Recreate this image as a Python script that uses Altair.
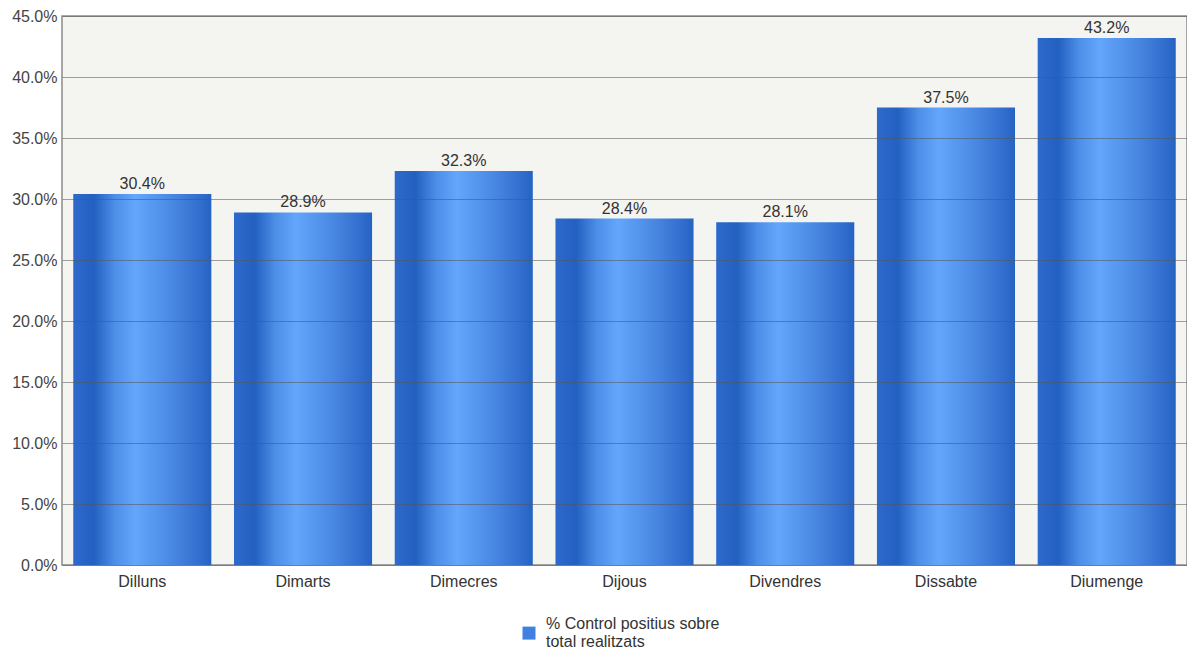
import altair as alt
import pandas as pd

days = ["Dilluns", "Dimarts", "Dimecres", "Dijous", "Divendres", "Dissabte", "Diumenge"]
values = [30.4, 28.9, 32.3, 28.4, 28.1, 37.5, 43.2]
series_name = "% Control positius sobre total realitzats"
legend_lines = ["% Control positius sobre", "total realitzats"]

df = pd.DataFrame({"dia": days, "valor": [v / 100 for v in values], "serie": [series_name] * len(days)})

FONT = "Liberation Sans"
FS = 16

grad = alt.LinearGradient(
    gradient="linear",
    stops=[
        alt.GradientStop(color="#2d6acb", offset=0.0),
        alt.GradientStop(color="#2360c0", offset=0.15),
        alt.GradientStop(color="#4d8ee8", offset=0.3),
        alt.GradientStop(color="#63a6fb", offset=0.45),
        alt.GradientStop(color="#4b8ae4", offset=0.7),
        alt.GradientStop(color="#3470cf", offset=0.9),
        alt.GradientStop(color="#2563c2", offset=1.0),
    ],
    x1=0, x2=1, y1=0, y2=0,
)

x_enc = alt.X(
    "dia:N", sort=days, title=None,
    scale=alt.Scale(paddingInner=0.141, paddingOuter=0.07),
    axis=alt.Axis(labelAngle=0, ticks=False, domain=False, labelPadding=8,
                  labelFont=FONT, labelFontSize=FS, labelColor="#333333"),
)
y_enc = alt.Y(
    "valor:Q", title=None,
    scale=alt.Scale(domain=[0, 0.45], nice=False),
    axis=alt.Axis(format=".1%", values=[i * 0.05 for i in range(10)], ticks=False, domain=False,
                  labelPadding=5, labelFont=FONT, labelFontSize=FS, labelColor="#444444",
                  grid=True, gridColor="#555555", gridOpacity=0.55, gridWidth=1, zindex=1),
)

bars = alt.Chart(df).mark_bar(color=grad).encode(x=x_enc, y=y_enc)

legend_expr = "[" + ", ".join("'" + s + "'" for s in legend_lines) + "]"

legend_layer = alt.Chart(df).mark_bar(opacity=0).encode(
    x=alt.X("dia:N", sort=days),
    y=alt.Y("valor:Q"),
    color=alt.Color(
        "serie:N",
        scale=alt.Scale(range=["#3f80e0"]),
        legend=alt.Legend(
            title=None, orient="none", legendX=459, legendY=600,
            symbolType="M-1,0.4L1,0.4L1,2.4L-1,2.4Z", symbolSize=169, symbolOpacity=1,
            symbolStrokeWidth=0,
            labelFont=FONT, labelFontSize=FS, labelColor="#333333",
            labelExpr=legend_expr,
            labelLimit=400, labelOffset=9,
        ),
    ),
)

labels = alt.Chart(df).mark_text(
    baseline="alphabetic", dy=-5, font=FONT, fontSize=FS, color="#333333"
).encode(
    x=alt.X("dia:N", sort=days),
    y=alt.Y("valor:Q"),
    text=alt.Text("valor:Q", format=".1%"),
)

chart = alt.layer(bars, legend_layer, labels).properties(
    width=1125, height=549,
    autosize=alt.AutoSizeParams(type="none"),
    padding={"left": 54, "top": 8, "right": 0, "bottom": 85},
    background="#ffffff",
).configure_view(
    fill="#f4f4f0", stroke="#8a8a8a", strokeWidth=1.5
)

chart.save("out.html", embed_options={"renderer": "svg", "actions": False})
